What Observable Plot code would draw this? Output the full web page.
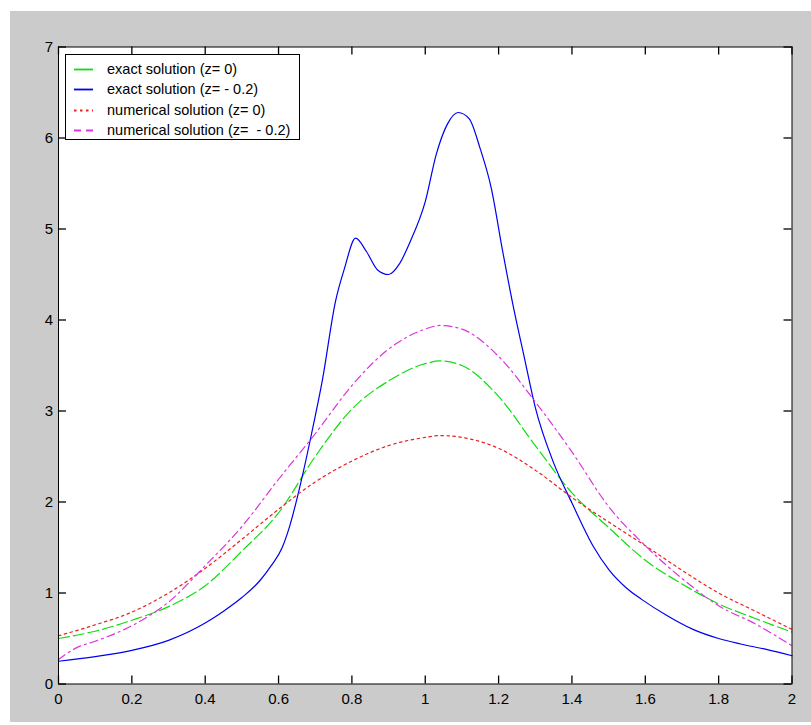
<!DOCTYPE html>
<html>
<head>
<meta charset="utf-8">
<script src="https://cdn.jsdelivr.net/npm/d3@7"></script>
<script src="https://cdn.jsdelivr.net/npm/@observablehq/plot@0.6"></script>
<style>
  html, body { margin: 0; padding: 0; background: #fff; }
  #wrap { position: relative; width: 811px; height: 725px; overflow: hidden; }
  #bg { position: absolute; left: 10px; top: 11px; width: 801px; height: 711px; background: #cbcbcb; }
  #chart { position: absolute; left: 0; top: 0; }
  #legend { position: absolute; left: 65px; top: 54px; width: 233px; height: 84px;
            border: 1.5px solid #000; background: #fff;
            font: 14.5px "Liberation Sans", Arial, sans-serif; color: #000; }
  .row { position: absolute; left: 0; height: 20px; line-height: 20px; white-space: pre; }
  .row svg { position: absolute; left: 7px; top: 0; }
  .row span { position: absolute; left: 41px; top: 0; white-space: pre; }
</style>
</head>
<body>
<div id="wrap">
  <div id="bg"></div>
  <div id="chart"></div>
  <div id="legend"></div>
</div>
<script>
// ---- data ----
const xTicks = [0, 0.2, 0.4, 0.6, 0.8, 1, 1.2, 1.4, 1.6, 1.8, 2];
const xTickLabels = ["0", "0.2", "0.4", "0.6", "0.8", "1", "1.2", "1.4", "1.6", "1.8", "2"];
const yTicks = [0, 1, 2, 3, 4, 5, 6, 7];
const yTickLabels = ["0", "1", "2", "3", "4", "5", "6", "7"];

const seriesNames = [
  "exact solution (z= 0)",
  "exact solution (z= - 0.2)",
  "numerical solution (z= 0)",
  "numerical solution (z=  - 0.2)"
];
const seriesColors = ["#10dd10", "#0000ee", "#e82020", "#dd33dd"];
const legendDash = [null, null, "2.5,3.5", "7,5"];
const plotDash = ["11,4", null, "2.5,3.5", "8,4,2,4"];

// exact solution z = 0 (green)
const exact0X = [0, 0.1, 0.2, 0.3, 0.4, 0.5, 0.6, 0.7, 0.8, 0.9, 1.0, 1.04, 1.1, 1.2, 1.3, 1.4, 1.5, 1.6, 1.7, 1.8, 1.9, 2.0];
const exact0Y = [0.5, 0.58, 0.7, 0.85, 1.08, 1.46, 1.88, 2.5, 3.02, 3.33, 3.52, 3.55, 3.5, 3.16, 2.62, 2.1, 1.72, 1.36, 1.1, 0.88, 0.72, 0.57];

// exact solution z = -0.2 (blue)
const exact2X = [0, 0.1, 0.2, 0.3, 0.4, 0.45, 0.5, 0.55, 0.58, 0.61, 0.63, 0.66, 0.69, 0.72, 0.755, 0.78, 0.81, 0.84, 0.87, 0.9, 0.93, 0.96, 1.0, 1.03, 1.06, 1.09, 1.12, 1.15, 1.18, 1.21, 1.24, 1.27, 1.3, 1.35, 1.4, 1.46, 1.5, 1.55, 1.59, 1.66, 1.73, 1.8, 1.86, 1.93, 2.0];
const exact2Y = [0.25, 0.3, 0.37, 0.48, 0.67, 0.8, 0.95, 1.14, 1.3, 1.5, 1.73, 2.2, 2.75, 3.35, 4.2, 4.57, 4.9, 4.75, 4.55, 4.5, 4.62, 4.87, 5.3, 5.82, 6.15, 6.28, 6.21, 5.88, 5.45, 4.78, 4.15, 3.59, 3.04, 2.43, 1.99, 1.5, 1.26, 1.05, 0.93, 0.75, 0.6, 0.5, 0.44, 0.38, 0.31];

// numerical solution z = 0 (red dotted)
const num0X = [0, 0.1, 0.2, 0.3, 0.4, 0.5, 0.6, 0.7, 0.8, 0.9, 1.0, 1.04, 1.1, 1.2, 1.3, 1.4, 1.5, 1.6, 1.7, 1.8, 1.9, 2.0];
const num0Y = [0.53, 0.65, 0.79, 1.0, 1.27, 1.59, 1.92, 2.22, 2.45, 2.62, 2.71, 2.73, 2.71, 2.59, 2.35, 2.05, 1.78, 1.52, 1.25, 1.0, 0.8, 0.6];

// numerical solution z = -0.2 (magenta dash-dot)
const num2X = [0, 0.05, 0.1, 0.2, 0.3, 0.4, 0.5, 0.6, 0.7, 0.8, 0.9, 1.0, 1.04, 1.1, 1.2, 1.3, 1.4, 1.5, 1.6, 1.7, 1.8, 1.9, 2.0];
const num2Y = [0.27, 0.4, 0.47, 0.64, 0.9, 1.3, 1.73, 2.25, 2.75, 3.28, 3.68, 3.9, 3.94, 3.9, 3.6, 3.1, 2.55, 1.95, 1.52, 1.16, 0.86, 0.66, 0.42];

// ---- build tables ----
const toRows = (xs, ys) => xs.map((x, i) => ({x, y: ys[i]}));
const series = [
  toRows(exact0X, exact0Y),
  toRows(exact2X, exact2Y),
  toRows(num0X, num0Y),
  toRows(num2X, num2Y)
];

const W = 811, H = 725;
const mL = 58, mR = 19.5, mT = 46.5, mB = 41.5;
const innerW = W - mL - mR, innerH = H - mT - mB;
const TS = 8; // inward tick length

const tickFont = '"Liberation Sans Narrow", "Liberation Sans", Arial, sans-serif';

const lineMarks = series.map((rows, i) => Plot.line(rows, {
  x: "x", y: "y", curve: "monotone-x",
  stroke: seriesColors[i], strokeWidth: 1.2,
  strokeDasharray: plotDash[i]
}));

const tickStyle = { stroke: "#000", strokeWidth: 1.3 };

const chart = Plot.plot({
  width: W,
  height: H,
  marginLeft: mL,
  marginRight: mR,
  marginTop: mT,
  marginBottom: mB,
  style: { background: "transparent", fontFamily: tickFont, fontSize: "15px", color: "#000" },
  x: { domain: [0, 2] },
  y: { domain: [0, 7] },
  marks: [
    Plot.frame({ fill: "white", stroke: null }),
    ...lineMarks,
    // inward tick marks on all four sides (MATLAB box style)
    Plot.tickX(xTicks, { x: (d) => d, ...tickStyle, insetTop: innerH - TS }),
    Plot.tickX(xTicks, { x: (d) => d, ...tickStyle, insetBottom: innerH - TS }),
    Plot.tickY(yTicks, { y: (d) => d, ...tickStyle, insetRight: innerW - TS }),
    Plot.tickY(yTicks, { y: (d) => d, ...tickStyle, insetLeft: innerW - TS }),
    // tick labels
    Plot.axisX({ anchor: "bottom", ticks: xTicks, tickSize: 0, tickPadding: 9,
                 tickFormat: (d) => xTickLabels[xTicks.indexOf(d)], label: null }),
    Plot.axisY({ anchor: "left", ticks: yTicks, tickSize: 0, tickPadding: 5.5,
                 tickFormat: (d) => yTickLabels[yTicks.indexOf(d)], label: null }),
    Plot.frame({ stroke: "#000", strokeWidth: 1 })
  ]
});
document.getElementById("chart").appendChild(chart);

// ---- legend (inside the axes, like the original) ----
const legend = document.getElementById("legend");
const rowTops = [4, 24, 45, 65];
seriesNames.forEach((name, i) => {
  const row = document.createElement("div");
  row.className = "row";
  row.style.top = rowTops[i] + "px";
  const dash = legendDash[i] ? `stroke-dasharray="${legendDash[i]}"` : "";
  row.innerHTML = `<svg width="22" height="20"><line x1="1" x2="20" y1="10.5" y2="10.5" stroke="${seriesColors[i]}" stroke-width="1.8" ${dash}/></svg><span>${name}</span>`;
  legend.appendChild(row);
});
</script>
</body>
</html>
